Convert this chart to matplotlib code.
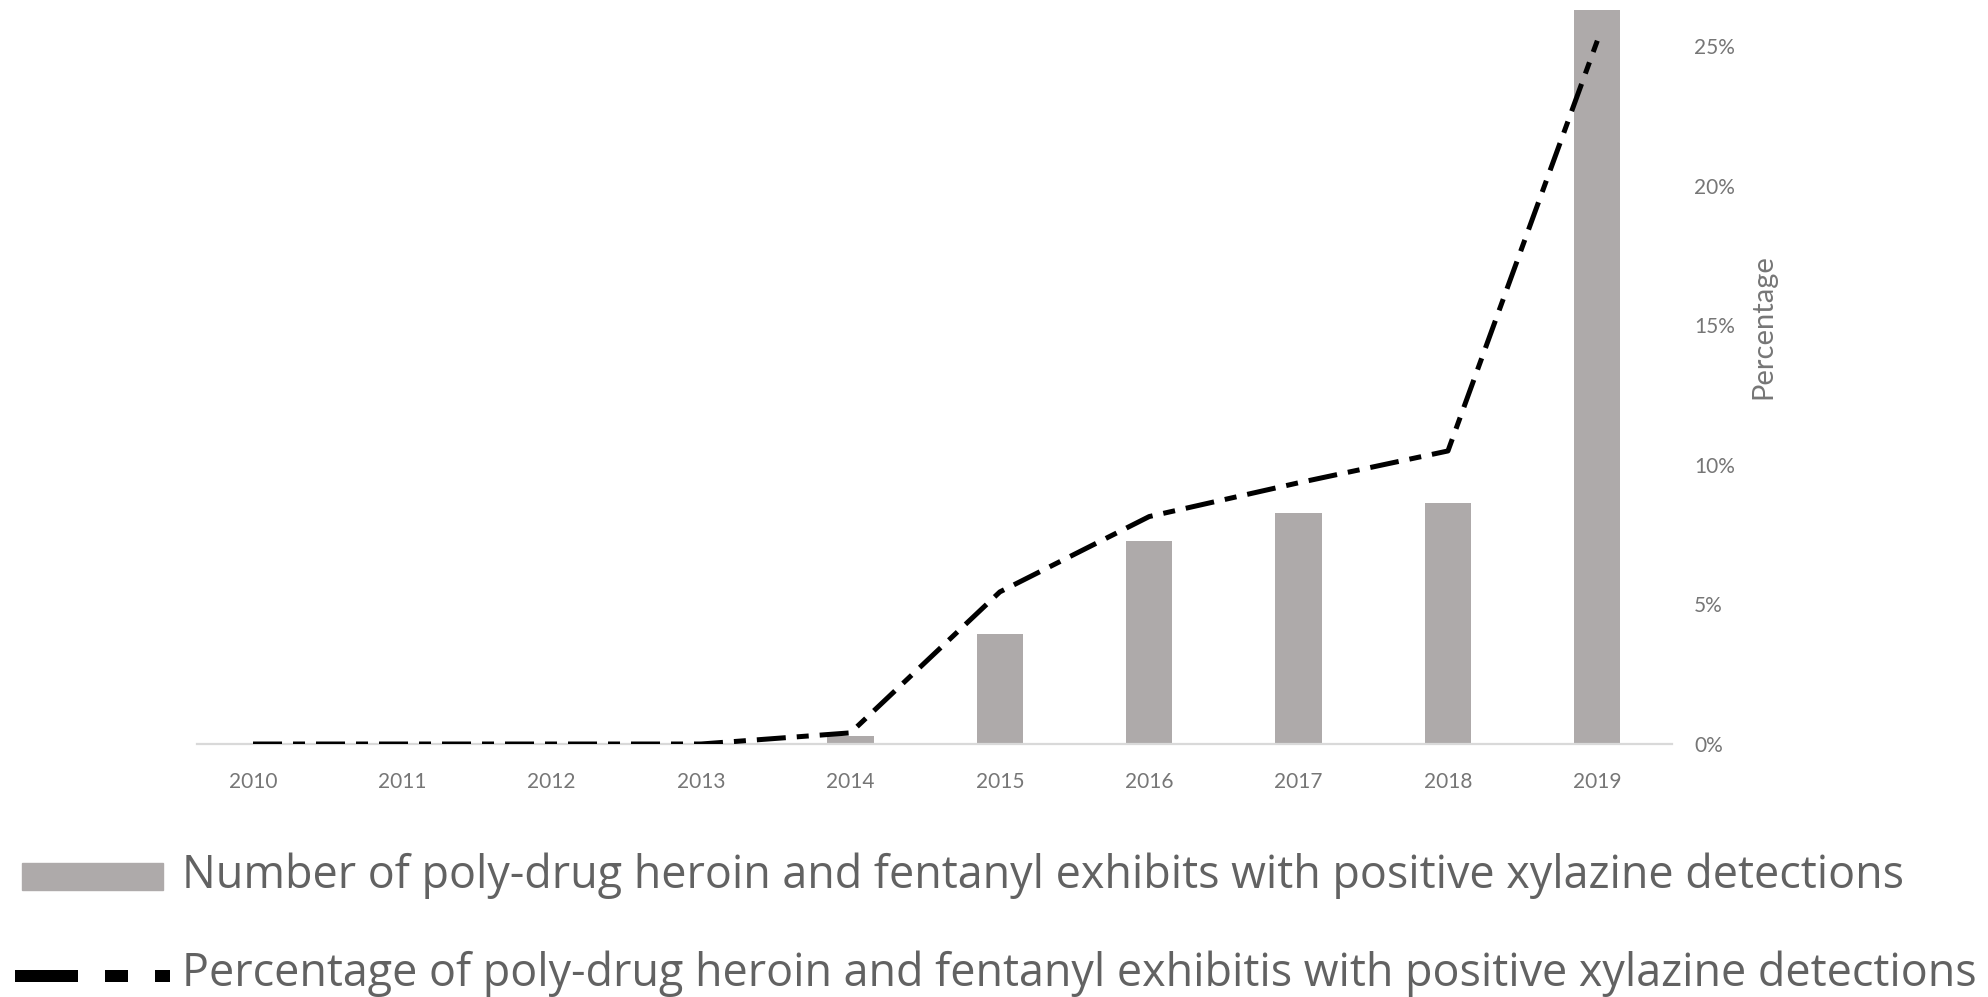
import matplotlib
matplotlib.use("Agg")
import matplotlib.pyplot as plt
from matplotlib.patches import Rectangle
from matplotlib.lines import Line2D
from matplotlib.ticker import FuncFormatter

plt.rcParams['font.family'] = ['Lato', 'DejaVu Sans']
plt.rcParams['lines.scale_dashes'] = False

years = ['2010', '2011', '2012', '2013', '2014', '2015', '2016', '2017', '2018', '2019']
exhibits = [0, 0, 0, 0, 9, 120, 221, 252, 263, 800]
percent = [0, 0, 0, 0, 0.4, 5.45, 8.15, 9.36, 10.5, 25.2]
pct_ticks = [0, 5, 10, 15, 20, 25]

bar_label = 'Number of poly-drug heroin and fentanyl exhibits with positive xylazine detections'
line_label = 'Percentage of poly-drug heroin and fentanyl exhibitis with positive xylazine detections'

W, H = 1988, 997
fig = plt.figure(figsize=(W / 100, H / 100), dpi=100)

def fx(px):
    return px / W

def fy(py):
    return 1 - py / H

bar_color = '#aeaaaa'
tick_color = '#767676'
legend_color = '#626262'
px = 0.72  # points per pixel at 100 dpi

ax = fig.add_axes([fx(197), fy(744), fx(1672) - fx(197), fy(10) - fy(744)])
x = list(range(len(years)))
ax.bar(x, exhibits, width=0.31, color=bar_color, zorder=2)
ax.set_xlim(-0.375, len(years) - 0.5)
ax.set_ylim(0, 800)
ax.set_xticks(x)
ax.set_xticklabels(years, fontsize=15, color=tick_color)
ax.tick_params(axis='x', length=0, pad=20)
ax.set_yticks([])
for s in ['top', 'left', 'right']:
    ax.spines[s].set_visible(False)
ax.spines['bottom'].set_color('#d9d9d9')
ax.spines['bottom'].set_linewidth(1.6)

ax2 = ax.twinx()
dash = (0, (29 * px, 11 * px, 12 * px, 11 * px))
ax2.plot(x, percent, color='black', lw=5 * px, linestyle=dash, zorder=3)
ax2.set_ylim(0, 26.3)
ax2.set_yticks(pct_ticks)
ax2.yaxis.set_major_formatter(FuncFormatter(lambda v, p: f'{v:.0f}%'))
ax2.tick_params(axis='y', length=0, pad=16, labelsize=15, labelcolor=tick_color)
for s in ['top', 'left', 'right', 'bottom']:
    ax2.spines[s].set_visible(False)
ax2.set_ylabel('Percentage', fontsize=21, color=tick_color)
ax2.yaxis.set_label_coords(1.053, 0.569)

# legend drawn below the plot
legend_font = ['Open Sans', 'DejaVu Sans']
fig.add_artist(Rectangle((fx(22), fy(890)), fx(163) - fx(22), fy(863) - fy(890),
                         transform=fig.transFigure, color=bar_color))
fig.text(fx(182), fy(876), bar_label, fontsize=32.3, color=legend_color,
         va='center', ha='left', family=legend_font)
fig.add_artist(Line2D([fx(15), fx(170)], [fy(976), fy(976)], transform=fig.transFigure,
                      color='black', lw=12 * px, solid_capstyle='butt', dash_capstyle='butt',
                      linestyle=(0, (63 * px, 27 * px, 23 * px, 27 * px, 15 * px, 200 * px))))
fig.text(fx(182), fy(974), line_label, fontsize=32.3, color=legend_color,
         va='center', ha='left', family=legend_font)

fig.savefig('out.png', dpi=100, facecolor='white')
